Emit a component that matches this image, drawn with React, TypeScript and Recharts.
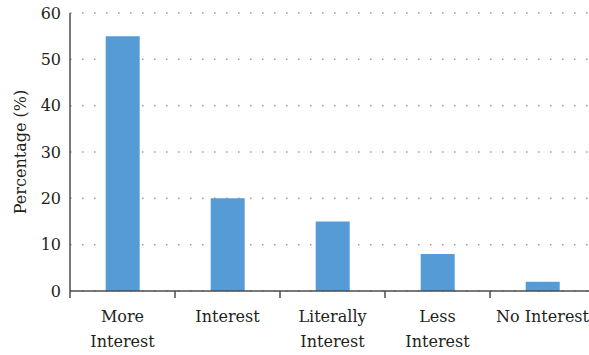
import { Bar, BarChart, CartesianGrid, XAxis, YAxis } from "recharts";

const categories = ["More Interest", "Interest", "Literally Interest", "Less Interest", "No Interest"];
const tickLines = [["More", "Interest"], ["Interest"], ["Literally", "Interest"], ["Less", "Interest"], ["No Interest"]];
const percentages = [55, 20, 15, 8, 2];
const yTicks = [0, 10, 20, 30, 40, 50, 60];

const data = categories.map((name, i) => ({ name, value: percentages[i] }));

const font = "'DejaVu Serif'";
const axisColor = "#4d4d4d";
const textColor = "#231f20";

function CategoryTick(props: any) {
  const { x, y, payload, index } = props;
  const half = payload?.offset ?? 52.5;
  const lines = tickLines[index] ?? [payload.value];
  return (
    <g>
      <line x1={x - half} y1={y - 8} x2={x - half} y2={y - 1} stroke={axisColor} strokeWidth={1.5} />
      <text x={x} y={y} textAnchor="middle" fill={textColor} fontFamily={font} fontSize={16}>
        {lines.map((line: string, i: number) => (
          <tspan key={i} x={x} dy={i === 0 ? 23 : 25}>
            {line}
          </tspan>
        ))}
      </text>
    </g>
  );
}

export default function App() {
  return (
    <div style={{ position: "absolute", left: 0, top: 0, width: 589, height: 355, overflow: "hidden", background: "#fff" }}>
      <BarChart width={600} height={355} data={data} margin={{ top: 13, right: 5, bottom: 0, left: 0 }} barCategoryGap="34%">
        <CartesianGrid vertical={false} stroke="#9a9a9a" strokeWidth={1.5} strokeDasharray="1.5 10.5" />
        <XAxis
          dataKey="name"
          height={64}
          tickLine={false}
          axisLine={{ stroke: axisColor, strokeWidth: 1.5 }}
          tick={<CategoryTick />}
          interval={0}
        />
        <YAxis
          width={70}
          domain={[0, 60]}
          ticks={yTicks}
          tickLine={false}
          tickMargin={3}
          axisLine={{ stroke: axisColor, strokeWidth: 1.5 }}
          tick={{ fill: textColor, fontSize: 16, fontFamily: font }}
          label={{
            value: "Percentage (%)",
            angle: -90,
            position: "insideLeft",
            offset: 20,
            style: { textAnchor: "middle", fill: textColor, fontFamily: font, fontSize: 16 },
          }}
        />
        <Bar dataKey="value" fill="#559bd5" isAnimationActive={false} />
      </BarChart>
    </div>
  );
}
